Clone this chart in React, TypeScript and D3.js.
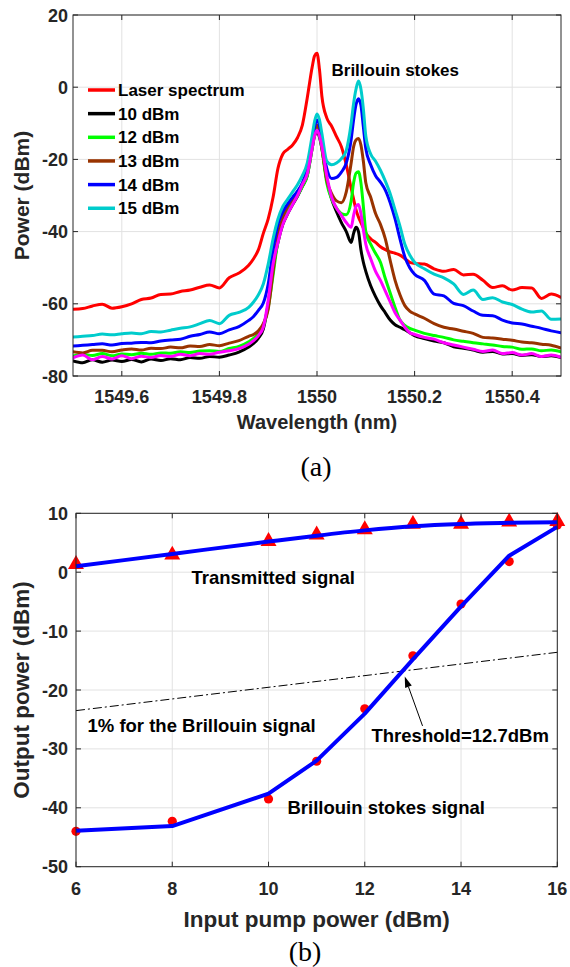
import React from 'react';
import * as d3 from 'd3';

// ---------- (a) spectra ----------
const wavelength = [
  1549.50, 1549.52, 1549.54, 1549.56, 1549.58, 1549.60, 1549.62, 1549.64, 1549.66, 1549.68,
  1549.70, 1549.72, 1549.74, 1549.76, 1549.78, 1549.80, 1549.82, 1549.84, 1549.86, 1549.87,
  1549.88, 1549.89, 1549.90, 1549.91, 1549.92, 1549.93, 1549.94, 1549.95, 1549.96, 1549.97,
  1549.98, 1549.99, 1549.995, 1550.00, 1550.005, 1550.01, 1550.02, 1550.03, 1550.04, 1550.05,
  1550.06, 1550.07, 1550.075, 1550.08, 1550.085, 1550.09, 1550.095, 1550.10, 1550.11, 1550.12,
  1550.13, 1550.14, 1550.15, 1550.16, 1550.17, 1550.18, 1550.19, 1550.20, 1550.22, 1550.24,
  1550.26, 1550.28, 1550.30, 1550.32, 1550.34, 1550.36, 1550.38, 1550.40, 1550.42, 1550.44,
  1550.46, 1550.48, 1550.50,
];

const laserSpectrum = [
  -61.5, -61.3, -60.6, -60.1, -61.2, -60.8, -60.0, -58.8, -58.4, -57.4,
  -57.3, -56.6, -56.2, -55.4, -54.8, -55.6, -52.8, -51.5, -49.3, -47.5,
  -45.0, -40.5, -36.5, -30.5, -22.5, -18.5, -17.2, -16.0, -14.0, -10.5,
  -3.0, 5.5, 8.7, 9.4, 5.0, -2.5, -8.5, -10.8, -13.7, -16.5,
  -21.5, -28.0, -31.0, -34.0, -36.0, -37.5, -39.0, -40.4, -42.0, -43.0,
  -44.2, -45.0, -45.6, -46.0, -46.5, -47.5, -48.5, -48.8, -49.0, -50.3,
  -51.0, -50.5, -52.0, -51.8, -53.5, -55.5, -55.0, -56.2, -55.5, -55.6,
  -58.5, -57.3, -58.2,
];

const pump10 = [
  -75.8, -76.3, -75.5, -76.2, -75.6, -76.0, -75.4, -76.1, -75.3, -75.7,
  -75.2, -75.5, -74.9, -75.1, -74.6, -74.8, -74.2, -73.4, -72.0, -71.0,
  -69.5, -67.0, -60.0, -50.0, -43.0, -38.0, -35.0, -32.5, -30.2, -27.5,
  -24.5, -17.0, -13.5, -12.3, -13.8, -17.0, -25.5, -31.0, -34.5, -37.5,
  -40.0, -43.0, -40.5, -38.8, -40.0, -45.0, -48.5, -51.0, -55.0, -58.0,
  -60.5, -62.5, -64.5, -65.8, -66.5, -67.2, -68.0, -68.8, -69.6, -70.3,
  -70.8, -71.9, -72.3, -72.8, -73.4, -73.2, -73.9, -73.8, -74.3, -74.1,
  -74.6, -74.4, -74.9,
];

const pump11 = [
  -75.0, -74.2, -75.5, -74.6, -75.3, -74.4, -75.2, -74.5, -74.9, -74.3,
  -74.6, -74.0, -74.4, -73.8, -74.0, -73.4, -73.0, -72.4, -71.2, -70.2,
  -68.8, -66.5, -59.0, -49.0, -43.0, -38.0, -35.0, -32.5, -30.0, -27.0,
  -24.0, -17.0, -13.5, -11.9, -13.5, -16.5, -24.5, -30.5, -33.5, -35.5,
  -37.5, -38.8, -35.5, -33.0, -32.5, -35.0, -39.5, -43.5, -47.5, -51.0,
  -53.5, -56.5, -59.5, -62.5, -64.5, -66.5, -68.0, -68.5, -69.3, -69.8,
  -70.8, -71.4, -72.0, -72.6, -73.2, -72.8, -73.8, -73.5, -74.2, -73.8,
  -74.6, -74.2, -74.8,
];

const pump12 = [
  -74.5, -74.0, -74.3, -73.8, -74.4, -73.9, -74.1, -73.7, -74.0, -73.6,
  -73.7, -73.3, -73.5, -73.1, -73.0, -73.2, -72.4, -71.8, -70.5, -69.6,
  -68.3, -66.0, -61.0, -52.0, -42.5, -37.5, -34.5, -32.0, -30.0, -27.5,
  -24.5, -17.0, -13.0, -11.5, -13.0, -17.0, -26.5, -31.0, -33.5, -35.0,
  -35.3, -31.5, -26.5, -23.8, -23.4, -26.5, -33.0, -40.0, -43.5, -46.0,
  -48.5, -53.0, -57.0, -61.0, -64.5, -66.0, -66.8, -67.3, -68.2, -68.8,
  -69.3, -70.0, -70.4, -70.8, -71.1, -71.4, -71.8, -72.0, -72.6, -72.5,
  -73.0, -72.8, -73.3,
];

const pump13 = [
  -73.3, -73.6, -72.9, -72.9, -73.3, -72.8, -72.5, -72.8, -72.3, -72.4,
  -72.0, -72.2, -71.7, -71.8, -71.3, -71.6, -70.9, -70.2, -69.0, -68.5,
  -67.5, -65.5, -61.5, -51.0, -41.0, -36.0, -33.0, -31.0, -29.0, -27.0,
  -23.5, -16.0, -12.0, -10.5, -12.0, -16.5, -25.7, -29.5, -31.5, -32.0,
  -29.0, -21.0, -16.5, -14.6, -14.2, -16.0, -20.5, -26.5, -30.5, -35.0,
  -38.0, -42.0, -48.0, -53.5, -57.5, -60.5, -62.0, -62.8, -64.0, -65.5,
  -66.5, -67.0, -67.6, -68.2, -69.3, -69.5, -69.8, -70.1, -70.6, -70.8,
  -71.2, -71.5, -72.3,
];

const pump14 = [
  -71.7, -71.5, -71.3, -71.1, -71.4, -71.0, -70.9, -70.7, -70.8, -70.3,
  -70.0, -69.8, -69.0, -68.5, -67.8, -68.3, -67.2, -66.3, -64.6, -63.5,
  -61.8, -59.8, -54.5, -45.0, -38.0, -34.5, -32.3, -30.5, -28.8, -26.5,
  -22.5, -15.0, -11.0, -9.1, -10.5, -15.0, -22.5, -25.3, -25.0, -23.5,
  -21.0, -14.5, -9.0, -4.8, -3.2, -5.0, -11.0, -17.0, -21.5, -24.5,
  -26.3, -28.5, -32.0, -36.5, -42.0, -47.0, -50.0, -51.8, -53.5, -57.3,
  -57.8, -59.9, -60.5, -62.0, -63.2, -63.3, -64.5, -65.3, -65.6, -66.2,
  -66.8, -67.5, -68.0,
];

const pump15 = [
  -69.2, -69.0, -68.8, -68.4, -68.6, -68.3, -68.1, -68.3, -67.7, -67.8,
  -67.3, -66.8, -66.4, -65.5, -64.6, -65.5, -63.2, -62.4, -61.0, -59.5,
  -57.5, -54.5, -49.0, -42.0, -36.5, -33.0, -31.0, -29.0, -27.0, -24.5,
  -21.0, -13.5, -9.5, -7.4, -9.0, -12.8, -20.5, -21.5, -21.0, -19.8,
  -17.5, -10.0, -4.5, -0.5, 1.7, -0.5, -6.0, -13.5, -18.5, -20.5,
  -23.0, -26.0, -29.5, -34.0, -38.5, -43.5, -46.5, -48.5, -50.3, -51.8,
  -52.8, -54.5, -57.4, -56.2, -58.8, -58.3, -59.5, -60.2, -61.5, -62.3,
  -62.0, -64.3, -64.2,
];

const spectrumSeries = [
  { label: 'Laser spectrum', values: laserSpectrum, color: '#ff0000', inLegend: true },
  { label: '10 dBm', values: pump10, color: '#000000', inLegend: true },
  { label: '12 dBm', values: pump12, color: '#00ff00', inLegend: true },
  { label: '13 dBm', values: pump13, color: '#993300', inLegend: true },
  { label: '14 dBm', values: pump14, color: '#0000ff', inLegend: true },
  { label: '15 dBm', values: pump15, color: '#00cccc', inLegend: true },
  { label: '11 dBm', values: pump11, color: '#ff00ff', inLegend: false },
];

const xTicksA = [1549.6, 1549.8, 1550, 1550.2, 1550.4];
const yTicksA = [-80, -60, -40, -20, 0, 20];

// ---------- (b) power curves ----------
const pumpPower = [6, 8, 10, 11, 12, 13, 14, 15, 16];
const transmittedMeasured = [1.6, 3.2, 5.5, 6.6, 7.5, 8.4, 8.4, 8.8, 8.9];
const transmittedFit = [1.0, 3.1, 5.2, 6.2, 7.1, 7.8, 8.2, 8.4, 8.5];
const stokesMeasured = [-44.0, -42.3, -38.5, -32.1, -23.2, -14.2, -5.4, 1.8, 8.0];
const stokesFit = [-43.9, -43.1, -37.6, -32.0, -24.0, -14.8, -5.8, 2.8, 7.7];
const onePercentX = [6, 16];
const onePercentY = [-23.5, -13.6];
const arrowTail = [13.2, -26.1];
const arrowTip = [12.83, -17.7];
const xTicksB = [6, 8, 10, 12, 14, 16];
const yTicksB = [-50, -40, -30, -20, -10, 0, 10];

const FONT = "'Liberation Sans', Arial, sans-serif";
const AX = '#262626';
const GRID = '#e2e2e2';

export default function App() {
  // panel (a)
  const A = { left: 73, right: 561, top: 15, bottom: 376 };
  const xa = d3.scaleLinear().domain([1549.5, 1550.5]).range([A.left, A.right]);
  const ya = d3.scaleLinear().domain([-80, 20]).range([A.bottom, A.top]);
  const lineA = d3
    .line<number>()
    .x((_, i) => xa(wavelength[i]))
    .y((d) => ya(d))
    .curve(d3.curveMonotoneX);

  // panel (b)
  const B = { left: 76, right: 557.3, top: 513.3, bottom: 866.7 };
  const xb = d3.scaleLinear().domain([6, 16]).range([B.left, B.right]);
  const yb = d3.scaleLinear().domain([-50, 10]).range([B.bottom, B.top]);
  const lineFitT = d3
    .line<number>()
    .x((_, i) => xb(pumpPower[i]))
    .y((d) => yb(d))
    .curve(d3.curveMonotoneX);
  const lineFitS = d3
    .line<number>()
    .x((_, i) => xb(pumpPower[i]))
    .y((d) => yb(d));
  const tri = d3.symbol().type(d3.symbolTriangle).size(110)();

  const tk = 5;

  const tx = xb(arrowTail[0]);
  const ty = yb(arrowTail[1]);
  const hx = xb(arrowTip[0]);
  const hy = yb(arrowTip[1]);
  const ang = Math.atan2(hy - ty, hx - tx);
  const hl = 11;
  const hw = 3.5;
  const bx = hx - hl * Math.cos(ang);
  const by = hy - hl * Math.sin(ang);
  const head = `M${hx},${hy} L${bx + hw * Math.sin(ang)},${by - hw * Math.cos(ang)} L${bx - hw * Math.sin(ang)},${by + hw * Math.cos(ang)} Z`;

  const legendRows = spectrumSeries.filter((s) => s.inLegend);

  return (
    <svg
      width={570}
      height={967}
      style={{ position: 'absolute', left: 0, top: 0, background: '#fff' }}
      fontFamily={FONT}
    >
      <rect x={0} y={0} width={570} height={967} fill="#fff" />
      {/* ===== Panel (a) ===== */}
      <defs>
        <clipPath id="clipA">
          <rect x={A.left} y={A.top} width={A.right - A.left} height={A.bottom - A.top} />
        </clipPath>
        <clipPath id="clipB">
          <rect x={B.left - 10} y={B.top - 10} width={B.right - B.left + 20} height={B.bottom - B.top + 20} />
        </clipPath>
      </defs>
      {xTicksA.map((t) => (
        <line key={'gxa' + t} x1={xa(t)} x2={xa(t)} y1={A.top} y2={A.bottom} stroke={GRID} strokeWidth={1} />
      ))}
      {yTicksA.map((t) => (
        <line key={'gya' + t} x1={A.left} x2={A.right} y1={ya(t)} y2={ya(t)} stroke={GRID} strokeWidth={1} />
      ))}
      <g clipPath="url(#clipA)">
        {spectrumSeries.map((s) => (
          <path
            key={s.label}
            d={lineA(s.values) || ''}
            fill="none"
            stroke={s.color}
            strokeWidth={3}
            strokeLinejoin="round"
            strokeLinecap="round"
          />
        ))}
      </g>
      <rect x={A.left} y={A.top} width={A.right - A.left} height={A.bottom - A.top} fill="none" stroke={AX} strokeWidth={1} />
      {xTicksA.map((t) => (
        <g key={'txa' + t}>
          <line x1={xa(t)} x2={xa(t)} y1={A.bottom} y2={A.bottom - tk} stroke={AX} />
          <line x1={xa(t)} x2={xa(t)} y1={A.top} y2={A.top + tk} stroke={AX} />
          <text x={xa(t)} y={403} textAnchor="middle" fontSize={18} fontWeight="bold" fill={AX}>
            {String(t)}
          </text>
        </g>
      ))}
      {yTicksA.map((t) => (
        <g key={'tya' + t}>
          <line x1={A.left} x2={A.left + tk} y1={ya(t)} y2={ya(t)} stroke={AX} />
          <line x1={A.right} x2={A.right - tk} y1={ya(t)} y2={ya(t)} stroke={AX} />
          <text x={A.left - 5} y={ya(t) + 6.5} textAnchor="end" fontSize={18} fontWeight="bold" fill={AX}>
            {String(t)}
          </text>
        </g>
      ))}
      <text x={(A.left + A.right) / 2} y={429} textAnchor="middle" fontSize={20} fontWeight="bold" fill={AX}>
        Wavelength (nm)
      </text>
      <text
        transform={`translate(29, ${(A.top + A.bottom) / 2}) rotate(-90)`}
        textAnchor="middle"
        fontSize={21}
        fontWeight="bold"
        fill={AX}
      >
        Power (dBm)
      </text>
      {legendRows.map((s, i) => {
        const y = 90 + i * 23.65;
        return (
          <g key={'lg' + s.label}>
            <line x1={88} x2={115} y1={y} y2={y} stroke={s.color} strokeWidth={3.5} />
            <text x={118} y={y + 6} fontSize={17} fontWeight="bold" fill="#000">
              {s.label}
            </text>
          </g>
        );
      })}
      <text x={331.5} y={75.5} fontSize={17} fontWeight="bold" fill="#000">
        Brillouin stokes
      </text>
      <text x={316} y={476} textAnchor="middle" fontSize={28} fontFamily="'Liberation Serif', 'Times New Roman', serif" fill="#000">
        (a)
      </text>

      {/* ===== Panel (b) ===== */}
      {xTicksB.map((t) => (
        <line key={'gxb' + t} x1={xb(t)} x2={xb(t)} y1={B.top} y2={B.bottom} stroke={GRID} strokeWidth={1} />
      ))}
      {yTicksB.map((t) => (
        <line key={'gyb' + t} x1={B.left} x2={B.right} y1={yb(t)} y2={yb(t)} stroke={GRID} strokeWidth={1} />
      ))}
      <line
        x1={xb(onePercentX[0])}
        y1={yb(onePercentY[0])}
        x2={xb(onePercentX[1])}
        y2={yb(onePercentY[1])}
        stroke="#000"
        strokeWidth={1}
        strokeDasharray="9,3,2,3"
      />
      <g clipPath="url(#clipB)">
        {pumpPower.map((p, i) => (
          <path key={'tm' + p} d={tri || ''} transform={`translate(${xb(p)},${yb(transmittedMeasured[i]) + 1.5})`} fill="#ff0000" />
        ))}
        {pumpPower.map((p, i) => (
          <circle key={'sm' + p} cx={xb(p)} cy={yb(stokesMeasured[i])} r={4.6} fill="#ff0000" />
        ))}
        <path d={lineFitT(transmittedFit) || ''} fill="none" stroke="#0000ff" strokeWidth={4} strokeLinejoin="round" />
        <path d={lineFitS(stokesFit) || ''} fill="none" stroke="#0000ff" strokeWidth={4} strokeLinejoin="round" />
      </g>
      <line x1={tx} y1={ty} x2={bx} y2={by} stroke="#000" strokeWidth={1} />
      <path d={head} fill="#000" />
      <rect x={B.left} y={B.top} width={B.right - B.left} height={B.bottom - B.top} fill="none" stroke={AX} strokeWidth={1} />
      {xTicksB.map((t) => (
        <g key={'txb' + t}>
          <line x1={xb(t)} x2={xb(t)} y1={B.bottom} y2={B.bottom - tk} stroke={AX} />
          <line x1={xb(t)} x2={xb(t)} y1={B.top} y2={B.top + tk} stroke={AX} />
          <text x={xb(t)} y={894.5} textAnchor="middle" fontSize={18} fontWeight="bold" fill={AX}>
            {String(t)}
          </text>
        </g>
      ))}
      {yTicksB.map((t) => (
        <g key={'tyb' + t}>
          <line x1={B.left} x2={B.left + tk} y1={yb(t)} y2={yb(t)} stroke={AX} />
          <line x1={B.right} x2={B.right - tk} y1={yb(t)} y2={yb(t)} stroke={AX} />
          <text x={B.left - 8} y={yb(t) + 6.5} textAnchor="end" fontSize={18} fontWeight="bold" fill={AX}>
            {String(t)}
          </text>
        </g>
      ))}
      <text x={191.5} y={584} fontSize={18.5} fontWeight="bold" fill="#000">
        Transmitted signal
      </text>
      <text x={87.5} y={732} fontSize={18.5} fontWeight="bold" fill="#000">
        1% for the Brillouin signal
      </text>
      <text x={371.5} y={741.5} fontSize={18.5} fontWeight="bold" fill="#000">
        Threshold=12.7dBm
      </text>
      <text x={287.5} y={813.5} fontSize={18.5} fontWeight="bold" fill="#000">
        Brillouin stokes signal
      </text>
      <text x={(B.left + B.right) / 2} y={926.5} textAnchor="middle" fontSize={22.5} fontWeight="bold" fill={AX}>
        Input pump power (dBm)
      </text>
      <text
        transform={`translate(28.5, ${(B.top + B.bottom) / 2}) rotate(-90)`}
        textAnchor="middle"
        fontSize={22.5}
        fontWeight="bold"
        fill={AX}
      >
        Output power (dBm)
      </text>
      <text x={305} y={961} textAnchor="middle" fontSize={28} fontFamily="'Liberation Serif', 'Times New Roman', serif" fill="#000">
        (b)
      </text>
    </svg>
  );
}
